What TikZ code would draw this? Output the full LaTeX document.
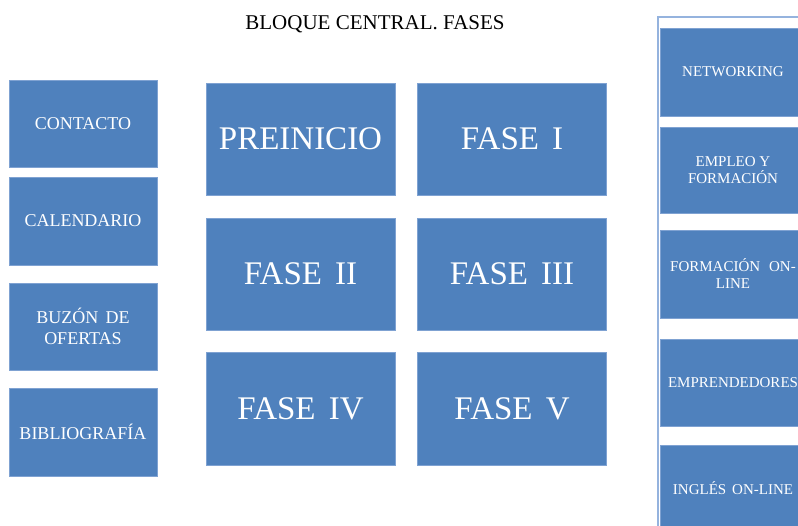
\documentclass[tikz,border=0pt]{standalone}
\usepackage{fontspec}
\setmainfont{Liberation Serif}
\definecolor{boxblue}{HTML}{4F81BD}
\definecolor{edgeblue}{HTML}{7FA2D2}
\definecolor{framecol}{HTML}{95B3DE}
\begin{document}
\begin{tikzpicture}[x=1pt,y=-1pt,
  tile/.style={fill=boxblue,draw=edgeblue,line width=0.7pt,text=white,inner sep=0pt,align=center},
  sidebox/.style={tile,minimum width=148pt,font=\fontsize{18}{21}\selectfont},
  phasebox/.style={tile,minimum width=189pt,minimum height=112pt,font=\fontsize{33}{38}\selectfont},
  menubox/.style={tile,minimum width=146pt,font=\fontsize{15}{17}\selectfont},
  titletext/.style={font=\fontsize{21}{24}\selectfont,inner sep=0pt}]
\clip (0,0) rectangle (798,526);
\fill[white] (0,0) rectangle (798,526);
% title
\node[titletext,anchor=base] (title) at (375,30) {BLOQUE CENTRAL. FASES};
% left column
\node[sidebox,minimum height=87pt] (contacto) at (83,123.5) {CONTACTO};
\node[sidebox,minimum height=88pt] (calendario) at (83,221) {CALENDARIO};
\node[sidebox,minimum height=87pt] (buzon) at (83,326.5) {BUZÓN\hspace{0.4em}DE\\OFERTAS};
\node[sidebox,minimum height=88pt] (biblio) at (83,432) {BIBLIOGRAFÍA};
% phases
\node[phasebox] (preinicio) at (300.5,139) {PREINICIO};
\node[phasebox] (fase1) at (512,139) {FASE\hspace{0.4em}I};
\node[phasebox] (fase2) at (300.5,274) {FASE\hspace{0.4em}II};
\node[phasebox] (fase3) at (512,274) {FASE\hspace{0.4em}III};
\node[phasebox,minimum height=113pt] (fase4) at (300.5,408.5) {FASE\hspace{0.4em}IV};
\node[phasebox,minimum height=113pt] (fase5) at (512,408.5) {FASE\hspace{0.4em}V};
% right column frame
\draw[framecol,line width=1.2pt] (658,540) -- (658,17) -- (820,17);
\node[menubox,minimum height=88pt] (networking) at (733,72) {NETWORKING};
\node[menubox,minimum height=86pt] (empleo) at (733,170) {EMPLEO Y\\FORMACIÓN};
\node[menubox,minimum height=88pt] (formacion) at (733,274) {FORMACIÓN\hspace{0.6em}ON-\\LINE};
\node[menubox,minimum height=87pt] (emprend) at (733,382.5) {EMPRENDEDORES};
\node[menubox,minimum height=86pt] (ingles) at (733,488) {INGLÉS\hspace{0.4em}ON-LINE};
\end{tikzpicture}
\end{document}
